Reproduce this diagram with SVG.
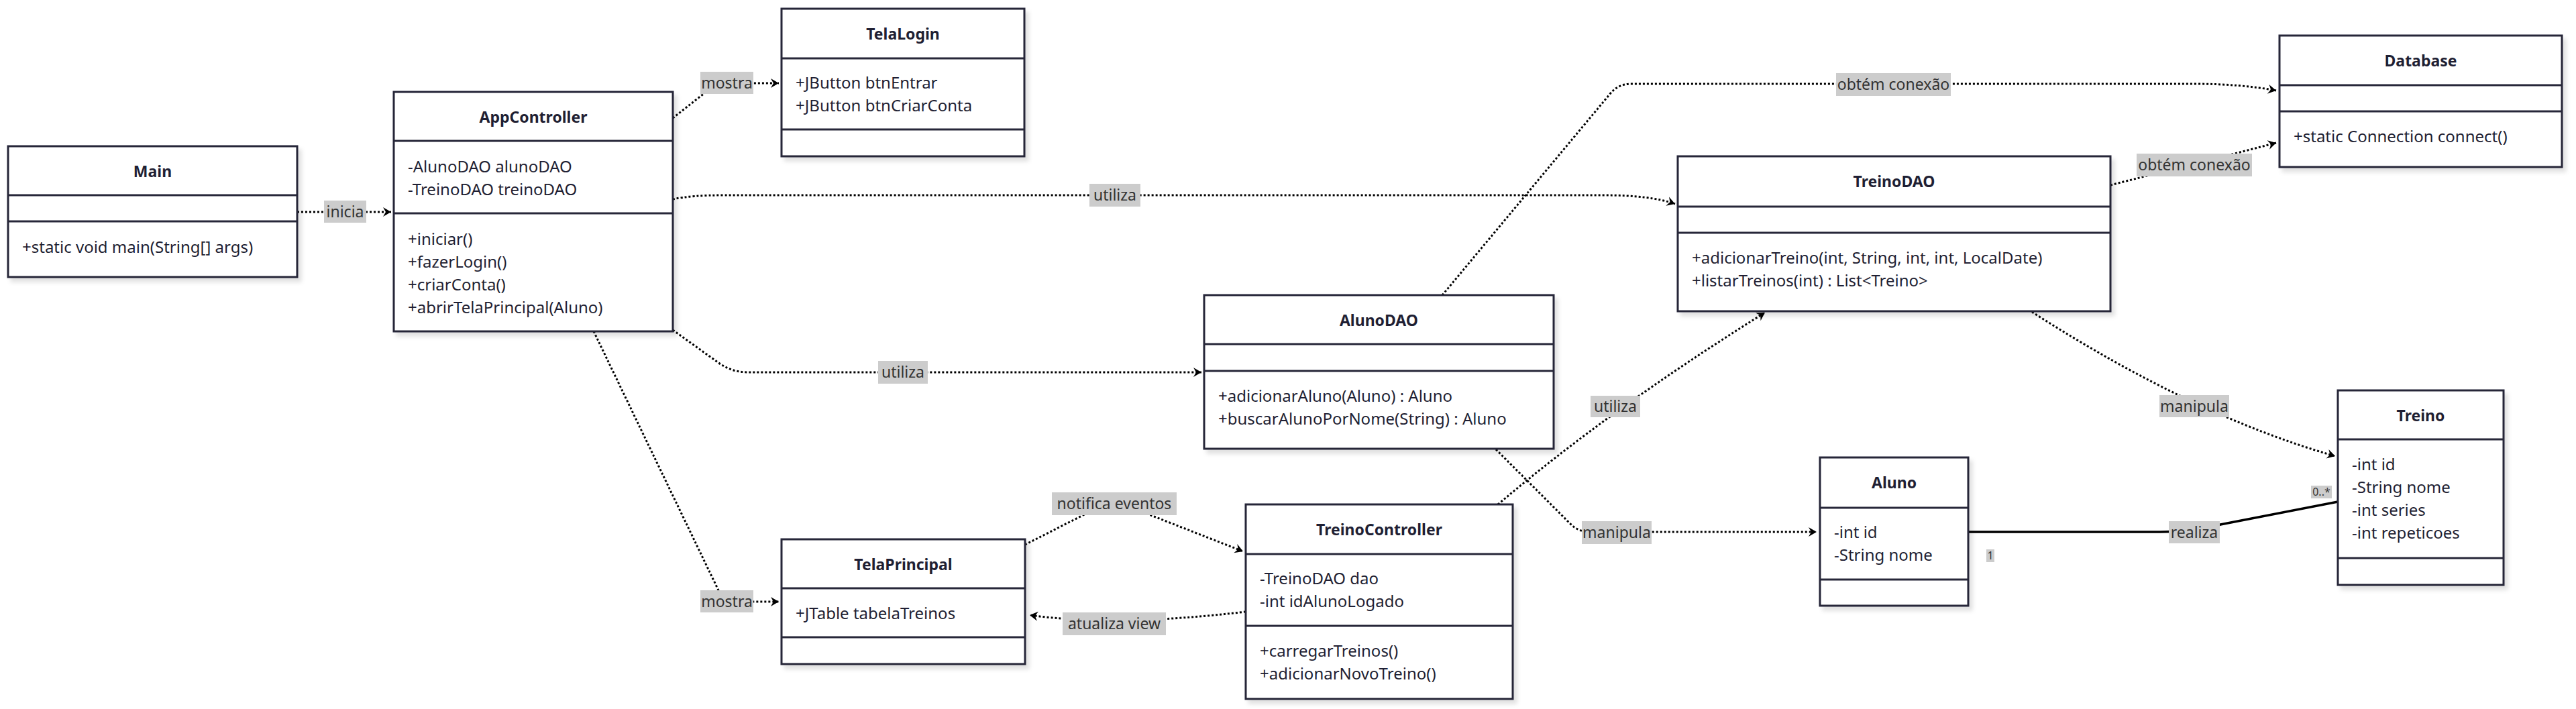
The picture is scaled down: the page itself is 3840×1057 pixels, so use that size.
<svg xmlns="http://www.w3.org/2000/svg" width="3840" height="1057" viewBox="0 0 3840 1057">
<defs>
<style>
.box{fill:#fff;stroke:#272739;stroke-width:3}
.dv{stroke:#272739;stroke-width:3}
.t{font-family:"Noto Sans","Open Sans",sans-serif;font-size:24px;fill:#1f1f33}
.h{font-weight:bold;text-anchor:middle;font-size:23px}
.edge{fill:none;stroke:#000;stroke-width:3;stroke-dasharray:3 3}
.solid{fill:none;stroke:#000;stroke-width:3.5}
.lbl{fill:#cccccc}
.lt{font-family:"Noto Sans","Open Sans",sans-serif;font-size:23px;text-anchor:middle;fill:#333}
.mt{font-family:"Noto Sans","Open Sans",sans-serif;font-size:16px;text-anchor:middle;fill:#333}
</style>
<filter id="sh" x="-5%" y="-5%" width="115%" height="120%">
<feDropShadow dx="5" dy="6" stdDeviation="3" flood-color="#000" flood-opacity="0.12"/>
</filter>
<marker id="arr" markerUnits="userSpaceOnUse" markerWidth="16" markerHeight="18" refX="13" refY="8" orient="auto">
<path d="M1,1 L13,8 L1,15 L5,8 Z" fill="#000"/>
</marker>
</defs>
<rect width="3840" height="1057" fill="#fff"/>

<g id="connectors">
<g id="e-inicia">
<path class="edge" d="M443,316 L583,316" marker-end="url(#arr)"/>
<rect class="lbl" x="483" y="299" width="63" height="33"/>
<text class="lt" x="514.5" y="324">inicia</text>
</g>
<g id="e-mostra-login">
<path class="edge" d="M1003,176 L1055,135 Q1066,124 1083,124 L1161,124" marker-end="url(#arr)"/>
<rect class="lbl" x="1044" y="107" width="79" height="33"/>
<text class="lt" x="1083.5" y="132">mostra</text>
</g>
<g id="e-mostra-principal">
<path class="edge" d="M885,494 L1070,878 Q1078,897 1095,897 L1161,897" marker-end="url(#arr)"/>
<rect class="lbl" x="1044" y="880" width="79" height="33"/>
<text class="lt" x="1083.5" y="905">mostra</text>
</g>
<g id="e-utiliza-aluno">
<path class="edge" d="M1003,492 L1070,540 Q1090,555 1115,555 L1791,555" marker-end="url(#arr)"/>
<rect class="lbl" x="1309" y="538" width="74" height="34"/>
<text class="lt" x="1346" y="563">utiliza</text>
</g>
<g id="e-utiliza-treino">
<path class="edge" d="M1003,297 Q1030,291 1080,291 L2390,291 Q2460,291 2497,304" marker-end="url(#arr)"/>
<rect class="lbl" x="1624" y="274" width="76" height="34"/>
<text class="lt" x="1662" y="299">utiliza</text>
</g>
<g id="e-conexao-aluno">
<path class="edge" d="M2150,440 L2400,140 Q2412,125 2432,125 L3270,125 Q3340,125 3393,135" marker-end="url(#arr)"/>
<rect class="lbl" x="2737" y="109" width="171" height="34"/>
<text class="lt" x="2822.5" y="134">obtém conexão</text>
</g>
<g id="e-conexao-treino">
<path class="edge" d="M3146,276 L3240,252 Q3271,245 3300,237 L3393,213" marker-end="url(#arr)"/>
<rect class="lbl" x="3185" y="229" width="172" height="34"/>
<text class="lt" x="3271" y="254">obtém conexão</text>
</g>
<g id="e-notifica">
<path class="edge" d="M1528,812 L1640,755 Q1661,745 1682,755 L1853,822" marker-end="url(#arr)"/>
<rect class="lbl" x="1568" y="734" width="186" height="34"/>
<text class="lt" x="1661" y="759">notifica eventos</text>
</g>
<g id="e-atualiza">
<path class="edge" d="M1857,912 Q1661,935 1535,917" marker-end="url(#arr)"/>
<rect class="lbl" x="1584" y="913" width="154" height="34"/>
<text class="lt" x="1661" y="938">atualiza view</text>
</g>
<g id="e-manipula-aluno">
<path class="edge" d="M2230,670 L2340,780 Q2352,793 2370,793 L2708,793" marker-end="url(#arr)"/>
<rect class="lbl" x="2358" y="777" width="104" height="34"/>
<text class="lt" x="2410" y="802">manipula</text>
</g>
<g id="e-utiliza-dao">
<path class="edge" d="M2233,752 Q2400,610 2631,466" marker-end="url(#arr)"/>
<rect class="lbl" x="2371" y="590" width="74" height="32"/>
<text class="lt" x="2408" y="614">utiliza</text>
</g>
<g id="e-manipula-treino">
<path class="edge" d="M3029,465 Q3270,620 3481,680" marker-end="url(#arr)"/>
<rect class="lbl" x="3219" y="589" width="104" height="33"/>
<text class="lt" x="3271" y="614">manipula</text>
</g>
<g id="e-realiza">
<path class="solid" d="M2934,793 L3220,793 Q3271,793 3310,782 L3485,748"/>
<rect class="lbl" x="3233" y="777" width="76" height="33"/>
<text class="lt" x="3271" y="802">realiza</text>
<rect class="lbl" x="2961" y="819" width="12" height="19"/>
<text class="mt" x="2967" y="834">1</text>
<rect class="lbl" x="3445" y="724" width="31" height="19"/>
<text class="mt" x="3460.5" y="739">0..*</text>
</g>
</g>

<g id="Main">
<rect class="box" filter="url(#sh)" x="12" y="218" width="431" height="195"/>
<line class="dv" x1="12" y1="291" x2="443" y2="291"/>
<line class="dv" x1="12" y1="330" x2="443" y2="330"/>
<text class="t h" x="227.5" y="264">Main</text>
<text class="t" x="33" y="377">+static void main(String[] args)</text>
</g>

<g id="AppController">
<rect class="box" filter="url(#sh)" x="587" y="137" width="416" height="357"/>
<line class="dv" x1="587" y1="210" x2="1003" y2="210"/>
<line class="dv" x1="587" y1="318" x2="1003" y2="318"/>
<text class="t h" x="795" y="183">AppController</text>
<text class="t" x="608" y="257">-AlunoDAO alunoDAO</text>
<text class="t" x="608" y="291">-TreinoDAO treinoDAO</text>
<text class="t" x="608" y="365">+iniciar()</text>
<text class="t" x="608" y="399">+fazerLogin()</text>
<text class="t" x="608" y="433">+criarConta()</text>
<text class="t" x="608" y="467">+abrirTelaPrincipal(Aluno)</text>
</g>

<g id="TelaLogin">
<rect class="box" filter="url(#sh)" x="1165" y="13" width="362" height="220"/>
<line class="dv" x1="1165" y1="87" x2="1527" y2="87"/>
<line class="dv" x1="1165" y1="193" x2="1527" y2="193"/>
<text class="t h" x="1346" y="59">TelaLogin</text>
<text class="t" x="1186" y="132">+JButton btnEntrar</text>
<text class="t" x="1186" y="166">+JButton btnCriarConta</text>
</g>

<g id="TelaPrincipal">
<rect class="box" filter="url(#sh)" x="1165" y="804" width="363" height="186"/>
<line class="dv" x1="1165" y1="877" x2="1528" y2="877"/>
<line class="dv" x1="1165" y1="950" x2="1528" y2="950"/>
<text class="t h" x="1346.5" y="850">TelaPrincipal</text>
<text class="t" x="1186" y="923">+JTable tabelaTreinos</text>
</g>

<g id="TreinoController">
<rect class="box" filter="url(#sh)" x="1857" y="752" width="398" height="290"/>
<line class="dv" x1="1857" y1="826" x2="2255" y2="826"/>
<line class="dv" x1="1857" y1="933" x2="2255" y2="933"/>
<text class="t h" x="2056" y="798">TreinoController</text>
<text class="t" x="1878" y="871">-TreinoDAO dao</text>
<text class="t" x="1878" y="905">-int idAlunoLogado</text>
<text class="t" x="1878" y="979">+carregarTreinos()</text>
<text class="t" x="1878" y="1013">+adicionarNovoTreino()</text>
</g>

<g id="AlunoDAO">
<rect class="box" filter="url(#sh)" x="1795" y="440" width="521" height="229"/>
<line class="dv" x1="1795" y1="513" x2="2316" y2="513"/>
<line class="dv" x1="1795" y1="553" x2="2316" y2="553"/>
<text class="t h" x="2055.5" y="486">AlunoDAO</text>
<text class="t" x="1816" y="599">+adicionarAluno(Aluno) : Aluno</text>
<text class="t" x="1816" y="633">+buscarAlunoPorNome(String) : Aluno</text>
</g>

<g id="TreinoDAO">
<rect class="box" filter="url(#sh)" x="2501" y="233" width="645" height="231"/>
<line class="dv" x1="2501" y1="308" x2="3146" y2="308"/>
<line class="dv" x1="2501" y1="347" x2="3146" y2="347"/>
<text class="t h" x="2823.5" y="279">TreinoDAO</text>
<text class="t" x="2522" y="393">+adicionarTreino(int, String, int, int, LocalDate)</text>
<text class="t" x="2522" y="427">+listarTreinos(int) : List&lt;Treino&gt;</text>
</g>

<g id="Database">
<rect class="box" filter="url(#sh)" x="3398" y="53" width="421" height="196"/>
<line class="dv" x1="3398" y1="127" x2="3819" y2="127"/>
<line class="dv" x1="3398" y1="166" x2="3819" y2="166"/>
<text class="t h" x="3608.5" y="99">Database</text>
<text class="t" x="3419" y="212">+static Connection connect()</text>
</g>

<g id="Aluno">
<rect class="box" filter="url(#sh)" x="2713" y="682" width="221" height="221"/>
<line class="dv" x1="2713" y1="757" x2="2934" y2="757"/>
<line class="dv" x1="2713" y1="864" x2="2934" y2="864"/>
<text class="t h" x="2823.5" y="728">Aluno</text>
<text class="t" x="2734" y="802">-int id</text>
<text class="t" x="2734" y="836">-String nome</text>
</g>

<g id="Treino">
<rect class="box" filter="url(#sh)" x="3485" y="582" width="247" height="290"/>
<line class="dv" x1="3485" y1="655" x2="3732" y2="655"/>
<line class="dv" x1="3485" y1="832" x2="3732" y2="832"/>
<text class="t h" x="3608.5" y="628">Treino</text>
<text class="t" x="3506" y="701">-int id</text>
<text class="t" x="3506" y="735">-String nome</text>
<text class="t" x="3506" y="769">-int series</text>
<text class="t" x="3506" y="803">-int repeticoes</text>
</g>
</svg>
